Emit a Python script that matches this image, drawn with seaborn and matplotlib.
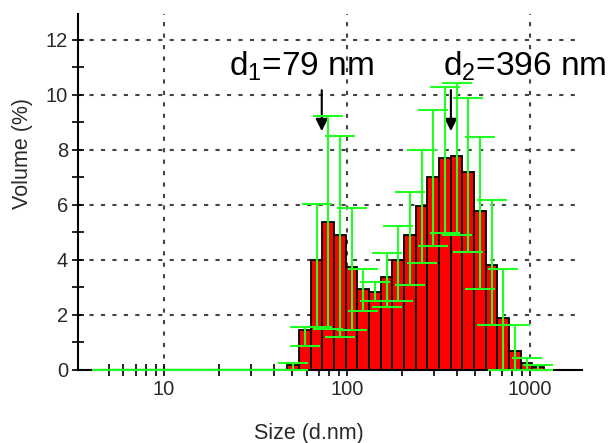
import numpy as np
import pandas as pd
import matplotlib
matplotlib.use("Agg")
import matplotlib.pyplot as plt
from matplotlib.ticker import FixedLocator, NullFormatter
import seaborn as sns

# size classes (nm) and mean volume distribution (%)
sizes = [4.849, 5.615, 6.503, 7.531, 8.721, 10.1, 11.7, 13.54, 15.69, 18.17,
         21.04, 24.36, 28.21, 32.67, 37.84, 43.82, 50.75, 58.77, 68.06, 78.82,
         91.28, 105.7, 122.4, 141.8, 164.2, 190.1, 220.2, 255.0, 295.3, 342.0,
         396.1, 458.7, 531.2, 615.1, 712.4, 825.0, 955.4, 1106]
volume = [0, 0, 0, 0, 0, 0, 0, 0, 0, 0,
          0, 0, 0, 0, 0, 0, 0.15, 1.44, 3.98, 5.37,
          4.89, 3.74, 2.93, 2.83, 3.37, 3.98, 4.89, 5.95, 7.00, 7.68,
          7.76, 7.19, 5.75, 3.80, 1.86, 0.68, 0.22, 0.10]
# lower / upper ends of the error bars
err_lo = [0, 0, 0, 0, 0, 0, 0, 0, 0, 0,
          0, 0, 0, 0, 0, 0, 0, 0.85, 1.56, 1.46,
          1.19, 1.44, 2.14, 2.49, 2.26, 2.49, 3.07, 3.86, 4.50, 4.95,
          4.89, 4.28, 2.92, 1.62, 0, 0, 0, 0]
err_hi = [0, 0, 0, 0, 0, 0, 0, 0, 0, 0,
          0, 0, 0, 0, 0, 0, 0.23, 1.54, 6.01, 9.22,
          8.49, 5.88, 3.64, 3.19, 4.23, 5.23, 6.47, 7.98, 9.44, 10.28,
          10.41, 9.86, 8.47, 6.16, 3.64, 1.62, 0.41, 0.15]

# peak annotations
peak_labels = [r"d$_\mathregular{1}$=79 nm", r"d$_\mathregular{2}$=396 nm"]
label_x = [22.5, 334]
arrow_x = [72.7, 369]

# axis ticks
x_major = [10, 100, 1000]
x_minor = [5, 6, 7, 8, 9, 20, 30, 40, 50, 60, 70, 80, 90,
           200, 300, 400, 500, 600, 700, 800, 900]
y_major = [0, 2, 4, 6, 8, 10, 12]
y_minor = [1, 3, 5, 7, 9, 11]

sns.set_theme(style="ticks")
plt.rcParams["font.family"] = ["Liberation Sans", "DejaVu Sans"]
plt.rcParams["mathtext.fontset"] = "custom"
plt.rcParams["mathtext.rm"] = "Liberation Sans"

df = pd.DataFrame({"size": sizes, "volume": volume, "lo": err_lo, "hi": err_hi})

fig = plt.figure(figsize=(6.1, 4.43), dpi=100)
ax = fig.add_axes([0.1284, 0.1659, 0.8257, 0.8025])

sns.barplot(data=df[df["volume"] > 0], x="size", y="volume", native_scale=True,
            log_scale=(True, False), width=1, color="#ff0000", saturation=1,
            edgecolor="black", linewidth=1.3, errorbar=None, ax=ax)

ax.errorbar(df["size"], df["volume"],
            yerr=[df["volume"] - df["lo"], df["hi"] - df["volume"]],
            fmt="none", ecolor="#22ff22", elinewidth=1.5, capsize=11, capthick=1.5,
            zorder=5)

# peak labels with arrows
for lab, lx, axx in zip(peak_labels, label_x, arrow_x):
    ax.text(lx, 10.7, lab, fontsize=24, color="black", ha="left", va="baseline")
    ax.annotate("", xy=(axx, 8.67), xytext=(axx, 10.16),
                arrowprops=dict(arrowstyle="-|>", color="black", lw=1.5,
                                mutation_scale=18, shrinkA=0, shrinkB=0))

ax.set_xlim(3.4, 1920)
ax.set_ylim(0, 12.93)
ax.set_yticks(y_major)
ax.set_yticks(y_minor, minor=True)
ax.set_xticks(x_major)
ax.set_xticklabels([str(v) for v in x_major])
ax.xaxis.set_minor_locator(FixedLocator(x_minor))
ax.xaxis.set_minor_formatter(NullFormatter())

ax.grid(True, which="major", color="#444444", linestyle=(0, (2, 3.5)), linewidth=1.5)
ax.set_axisbelow(True)

sns.despine(ax=ax)
for side in ["left", "bottom"]:
    ax.spines[side].set_linewidth(1.5)
    ax.spines[side].set_color("black")

ax.tick_params(which="both", direction="inout", color="black", width=1.2,
               labelsize=14.5, labelcolor="#2a2a2a")
ax.tick_params(which="major", length=8)
ax.tick_params(which="minor", length=8)

ax.set_xlabel("Size (d.nm)", fontsize=15.5, color="#2a2a2a")
ax.set_ylabel("Volume (%)", fontsize=15.5, color="#2a2a2a")
ax.xaxis.set_label_coords(0.458, -0.15)
ax.yaxis.set_label_coords(-0.089, 0.608)

fig.savefig("out.png", dpi=100)
